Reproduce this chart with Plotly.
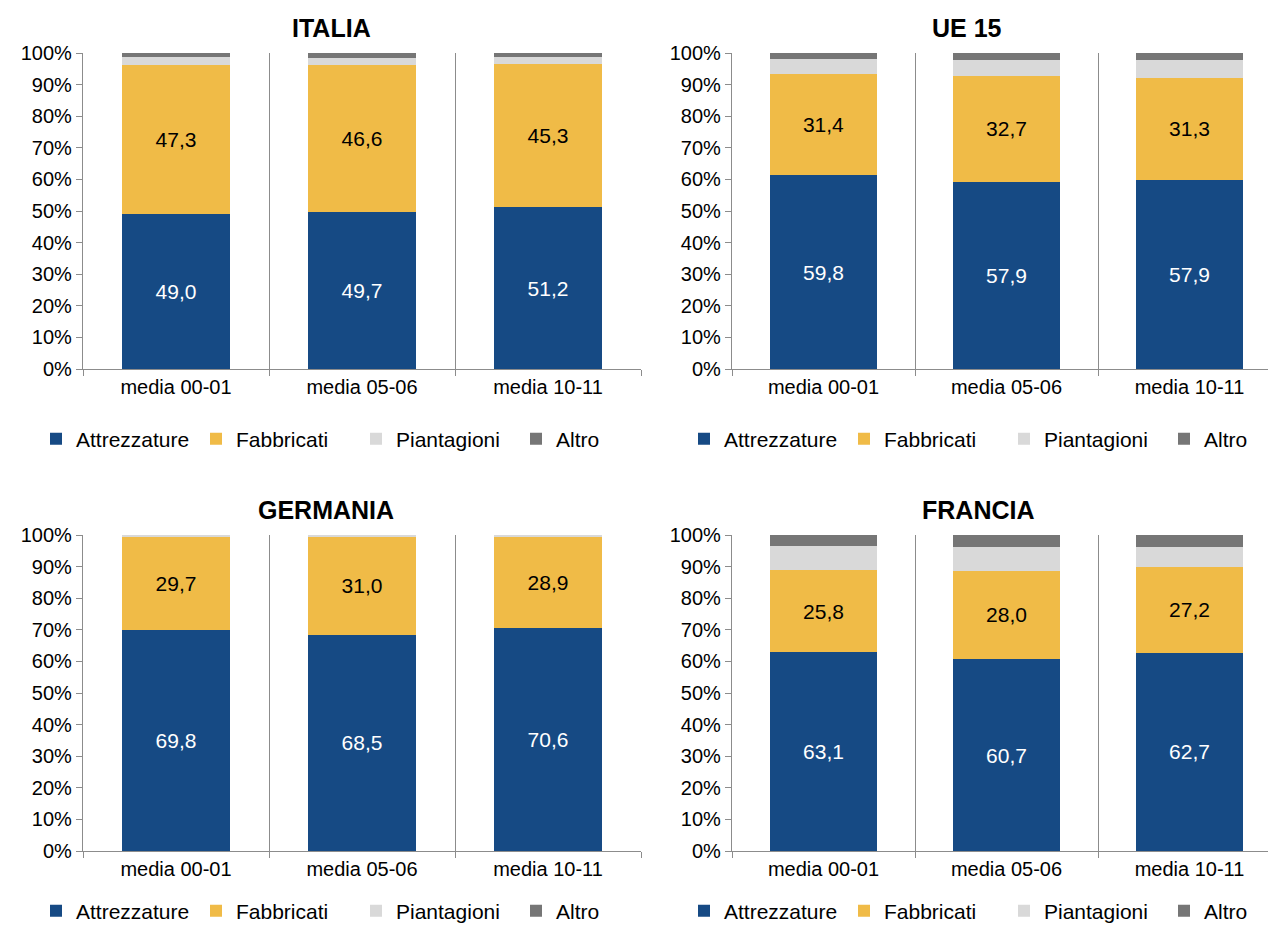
import plotly.graph_objects as go

FONT = "Liberation Sans, Arial, sans-serif"

PERIODI = ["media 00-01", "media 05-06", "media 10-11"]
SERIE = ["Attrezzature", "Fabbricati", "Piantagioni", "Altro"]
COLORI = ["#164A84", "#F0BB47", "#D9D9D9", "#767676"]
COLORI_TESTO = ["white", "black", None, None]

PAESI = ["ITALIA", "UE 15", "GERMANIA", "FRANCIA"]

Y_TICK_VALORI = [0, 10, 20, 30, 40, 50, 60, 70, 80, 90, 100]
Y_TICK_TESTI = ["0%", "10%", "20%", "30%", "40%", "50%", "60%", "70%", "80%", "90%", "100%"]

# quote in % (valori grezzi, il grafico le normalizza a 100)
italia_attrezzature = [49.0, 49.7, 51.2]
italia_fabbricati = [47.3, 46.6, 45.3]
italia_piantagioni = [2.3, 2.2, 2.1]
italia_altro = [1.4, 1.5, 1.4]

ue15_attrezzature = [59.8, 57.9, 57.9]
ue15_fabbricati = [31.4, 32.7, 31.3]
ue15_piantagioni = [4.4, 4.7, 5.5]
ue15_altro = [2.0, 2.3, 2.1]

germania_attrezzature = [69.8, 68.5, 70.6]
germania_fabbricati = [29.7, 31.0, 28.9]
germania_piantagioni = [0.5, 0.5, 0.5]
germania_altro = [0.0, 0.0, 0.0]

francia_attrezzature = [63.1, 60.7, 62.7]
francia_fabbricati = [25.8, 28.0, 27.2]
francia_piantagioni = [7.8, 7.6, 6.4]
francia_altro = [3.4, 3.7, 3.7]

DATI = {
    "ITALIA": [italia_attrezzature, italia_fabbricati, italia_piantagioni, italia_altro],
    "UE 15": [ue15_attrezzature, ue15_fabbricati, ue15_piantagioni, ue15_altro],
    "GERMANIA": [germania_attrezzature, germania_fabbricati, germania_piantagioni, germania_altro],
    "FRANCIA": [francia_attrezzature, francia_fabbricati, francia_piantagioni, francia_altro],
}

# la pagina html ha 8px di margine attorno al grafico
BORDO = 8
W, H = 1276 - 2 * BORDO, 932 - 2 * BORDO


def px_x(v):
    return (v - BORDO) / W


def px_y(v):
    return 1 - (v - BORDO) / H


# posizione dei pannelli in pixel della pagina: (sinistra, destra, alto, basso)
PANNELLI = {
    "ITALIA": (83, 641, 53, 369),
    "UE 15": (732, 1268, 53, 369),
    "GERMANIA": (83, 641, 535, 851),
    "FRANCIA": (732, 1268, 535, 851),
}
TITOLI_X = {"ITALIA": 332, "UE 15": 967, "GERMANIA": 326, "FRANCIA": 978}
LEGENDA_X = {"ITALIA": 36, "UE 15": 684, "GERMANIA": 36, "FRANCIA": 684}
LEGENDA_Y = {"ITALIA": 439, "UE 15": 439, "GERMANIA": 911, "FRANCIA": 911}


def formatta(v):
    return f"{v:.1f}".replace(".", ",")


fig = go.Figure()
layout = {}
annotazioni = []

for i, paese in enumerate(PAESI, start=1):
    suffisso = "" if i == 1 else str(i)
    xa, ya = f"x{suffisso}", f"y{suffisso}"
    legenda = "legend" if i == 1 else f"legend{i}"
    for serie, valori, colore, col_testo in zip(SERIE, DATI[paese], COLORI, COLORI_TESTO):
        fig.add_trace(
            go.Bar(
                x=PERIODI,
                y=valori,
                name=serie,
                marker=dict(color=colore, line=dict(width=0)),
                text=[formatta(v) for v in valori] if col_testo else None,
                textposition="inside" if col_testo else "none",
                insidetextanchor="middle",
                textangle=0,
                textfont=dict(family=FONT, size=21, color=col_testo or "black"),
                xaxis=xa,
                yaxis=ya,
                legend=legenda,
            )
        )

    sx, dx, alto, basso = PANNELLI[paese]
    larghezza_cat = 186 if dx < 700 else 183
    fine = -0.5 + (dx - sx) / larghezza_cat
    layout[f"xaxis{suffisso}"] = dict(
        domain=[px_x(sx), px_x(dx)],
        anchor=ya,
        type="category",
        range=[-0.5, min(fine, 2.5)],
        tickson="boundaries",
        showgrid=True,
        gridcolor="#8C8C8C",
        gridwidth=1.3,
        showline=True,
        linecolor="#8C8C8C",
        linewidth=1.3,
        ticks="outside",
        ticklen=6,
        tickcolor="#8C8C8C",
        tickfont=dict(family=FONT, size=20, color="black"),
        fixedrange=True,
    )
    layout[f"yaxis{suffisso}"] = dict(
        domain=[px_y(basso), px_y(alto)],
        anchor=xa,
        range=[0, 100],
        tickmode="array",
        tickvals=Y_TICK_VALORI,
        ticktext=Y_TICK_TESTI,
        showgrid=False,
        zeroline=False,
        showline=True,
        linecolor="#8C8C8C",
        linewidth=1.3,
        ticks="outside",
        ticklen=6,
        tickcolor="#8C8C8C",
        tickfont=dict(family=FONT, size=20, color="black"),
        fixedrange=True,
    )
    layout[legenda] = dict(
        orientation="h",
        x=px_x(LEGENDA_X[paese]),
        xanchor="left",
        y=px_y(LEGENDA_Y[paese]),
        yanchor="middle",
        font=dict(family=FONT, size=21, color="black"),
        itemwidth=30,
        entrywidth=115,
        bgcolor="rgba(0,0,0,0)",
        traceorder="normal",
    )
    annotazioni.append(
        dict(
            text=f"<b>{paese}</b>",
            x=px_x(TITOLI_X[paese]),
            y=px_y(alto - 25),
            xref="paper",
            yref="paper",
            xanchor="center",
            yanchor="middle",
            showarrow=False,
            font=dict(family=FONT, size=25, color="black"),
        )
    )

fig.update_layout(
    **layout,
    annotations=annotazioni,
    barmode="stack",
    barnorm="percent",
    bargap=0.415,
    width=W,
    height=H,
    margin=dict(l=0, r=0, t=0, b=0, autoexpand=False),
    paper_bgcolor="white",
    plot_bgcolor="white",
    font=dict(family=FONT, color="black"),
    uniformtext=dict(minsize=21, mode="show"),
)

fig.write_html("out.html")
